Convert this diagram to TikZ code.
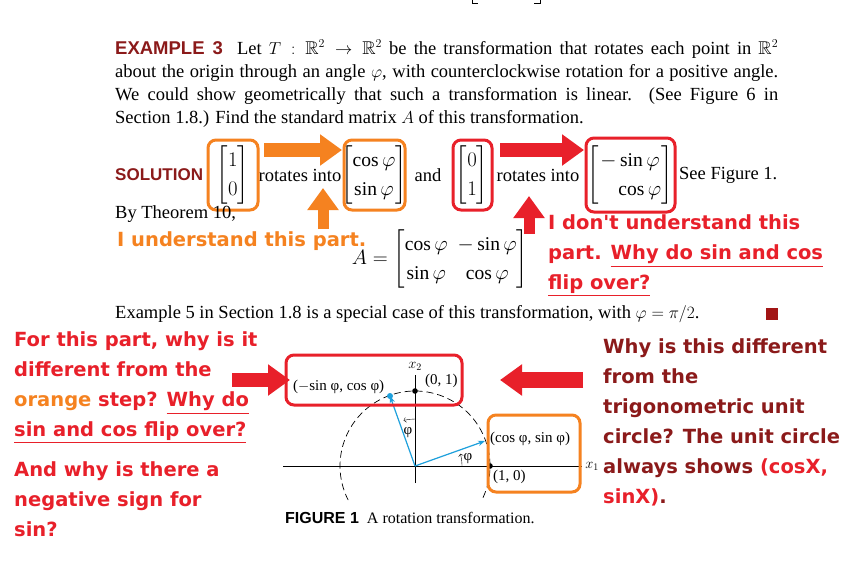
\documentclass[tikz,border=0pt]{standalone}
\usepackage{amsmath,amssymb}
\usepackage{fontspec}
\setmainfont{Liberation Serif}
\newfontfamily\annfont{DejaVu Sans}
\newfontfamily\hdfont{Liberation Sans}
\usetikzlibrary{arrows.meta}
\definecolor{org}{HTML}{F58220}
\definecolor{rd}{HTML}{E8202A}
\definecolor{drd}{HTML}{8B1A1A}
\definecolor{blu}{HTML}{1EA0DC}
\tikzset{
  body/.style={font=\fontsize{18.5}{23}\selectfont, inner sep=0pt},
  mat/.style={font=\fontsize{19.5}{23}\selectfont, inner sep=0pt},
  ann/.style={font=\annfont\bfseries\fontsize{19.5}{30}\selectfont, inner sep=0pt, anchor=west},
  small/.style={font=\fontsize{15}{17}\selectfont, inner sep=0pt},
  obox/.style={draw=org, line width=3pt, rounded corners=8pt},
  rbox/.style={draw=rd, line width=3pt, rounded corners=8pt},
  fatarrow/.style={line width=14pt, -{Triangle[length=22pt,width=30pt]}},
  vec/.style={blu, line width=1.2pt, -{Stealth[length=7pt]}},
}
\renewcommand\arraystretch{1.3}
\begin{document}
\begin{tikzpicture}[x=1pt,y=-1pt]
\useasboundingbox (0,0) rectangle (864,584);
\fill[white] (0,0) rectangle (864,584);
% top fragment
\draw[line width=0.6pt] (472,0) -- (472,3) -- (478,3) (540,0) -- (540,3) -- (534,3);
% paragraph
\node[body, anchor=north west, text width=663pt, align=justify] (para) at (115,40)
{{\hdfont\bfseries\color{drd}EXAMPLE 3}\ \ Let $T:\mathbb{R}^2\to\mathbb{R}^2$ be the transformation that rotates each point in $\mathbb{R}^2$\linebreak about the origin through an angle $\varphi$, with counterclockwise rotation for a positive angle.\linebreak We could show geometrically that such a transformation is linear. (See Figure 6 in\linebreak Section 1.8.) Find the standard matrix $A$ of this transformation.};
% solution row
\node[body, anchor=west, font=\hdfont\bfseries\fontsize{17}{20}\selectfont, text=drd] (sol) at (115,175) {SOLUTION};
\node[mat] (m1) at (233,175) {$\begin{bmatrix}1\\0\end{bmatrix}$};
\node[body] (r1) at (300,175) {rotates into};
\node[mat] (m2) at (374,175) {$\begin{bmatrix}\cos\varphi\\ \sin\varphi\end{bmatrix}$};
\node[body] (and) at (428,175) {and};
\node[mat] (m3) at (472,175) {$\begin{bmatrix}0\\1\end{bmatrix}$};
\node[body] (r2) at (538,175) {rotates into};
\node[mat] (m4) at (630,175) {$\begin{bmatrix}-\sin\varphi\\ \phantom{-}\cos\varphi\end{bmatrix}$};
\node[body, anchor=west] (see) at (679,175) {See Figure 1.};
\draw[obox] (208,140) rectangle (258,210);
\draw[obox] (344,140) rectangle (405,210);
\draw[rbox] (453,140) rectangle (492,210);
\draw[rbox] (586,138) rectangle (675,212);
\coordinate (oa1) at (264,150); \coordinate (oa2) at (342,150);
\draw[fatarrow, org] (oa1) -- (oa2);
\coordinate (ra1) at (500,150); \coordinate (ra2) at (584,150);
\draw[fatarrow, rd] (ra1) -- (ra2);
\coordinate (ou1) at (323,229); \coordinate (ou2) at (323,188);
\draw[fatarrow, org, line width=11pt] (ou1) -- (ou2);
\coordinate (ru1) at (529,234); \coordinate (ru2) at (529,196);
\draw[fatarrow, rd, line width=11pt] (ru1) -- (ru2);
\node[body, anchor=west] (thm) at (115,214) {By Theorem 10,};
\node[ann, text=org] (und) at (117,241) {I understand this part.};
\node[mat] (A) at (440,259) {$A=\begin{bmatrix}\cos\varphi & -\sin\varphi\\ \sin\varphi & \cos\varphi\end{bmatrix}$};
\node[ann, text=rd, anchor=north west, align=left] (dont) at (548,214) {I don't understand this\\part. \underline{Why do sin and cos}\\\underline{flip over?}};
\node[body, anchor=west] (ex5) at (115,314) {Example 5 in Section 1.8 is a special case of this transformation, with $\varphi=\pi/2$.};
\fill[drd!80!red] (766,308) rectangle (778,320);
% left annotation
\node[ann, text=rd, anchor=north west, align=left] (left) at (14,331) {For this part, why is it\\different from the\\{\color{org}orange} step? \underline{Why do}\\\underline{sin and cos flip over?}};
\node[ann, text=rd, anchor=north west, align=left] (left2) at (14,461) {And why is there a\\negative sign for\\sin?};
% right annotation
\node[ann, text=drd, anchor=north west, align=left] (right) at (603,338) {Why is this different\\from the\\trigonometric unit\\circle? The unit circle\\always shows {\color{rd}(cosX,}\\{\color{rd}sinX)}.};
% figure
\coordinate (O) at (415,466);
\draw[line width=0.6pt] (283,466) -- (582,466);
\draw[line width=0.6pt] (415,483) -- (415,375);
\node[font=\fontsize{14}{14}\selectfont, inner sep=0pt] (x1) at (592,466) {$x_1$};
\node[font=\fontsize{14}{14}\selectfont, inner sep=0pt] (x2) at (415,366) {$x_2$};
\draw[line width=0.7pt, dash pattern=on 7pt off 4pt] (415,466) ++(25:75) arc[start angle=25, end angle=-207, radius=75];
\coordinate (p1) at (485,441);
\coordinate (p2) at (390,396);
\draw[vec] (O) -- (p1);
\draw[vec] (O) -- (p2);
\fill[blu] (p2) circle (3pt);
\fill (415,391) circle (2.8pt);
\fill (490,466) circle (2.8pt);
\draw[->, line width=0.4pt] (462,466) arc[start angle=0, end angle=-15, radius=47];
\draw[->, line width=0.4pt] (415,419) arc[start angle=-90, end angle=-104, radius=47];
\node[small] (phi1) at (468,459) {φ};
\node[small] (phi2) at (408,433) {φ};
\node[small, anchor=west] (l10) at (493,477) {(1, 0)};
\node[small, anchor=west] (lcs) at (490,439) {(cos φ, sin φ)};
\node[small, anchor=west] (l01) at (425,381) {(0, 1)};
\node[small, anchor=west] (lsc) at (293,387) {($-$sin φ, cos φ)};
\draw[rbox] (286,355) rectangle (462,405);
\draw[obox] (488,415) rectangle (580,492);
\coordinate (la1) at (232,380); \coordinate (la2) at (290,380);
\draw[fatarrow, rd] (la1) -- (la2);
\coordinate (rr1) at (583,380); \coordinate (rr2) at (500,380);
\draw[fatarrow, rd, line width=16pt] (rr1) -- (rr2);
\node[inner sep=0pt, anchor=west, font=\fontsize{16}{18}\selectfont] (cap) at (285,518) {{\hdfont\bfseries FIGURE 1}\ \ A rotation transformation.};
\end{tikzpicture}
\end{document}
